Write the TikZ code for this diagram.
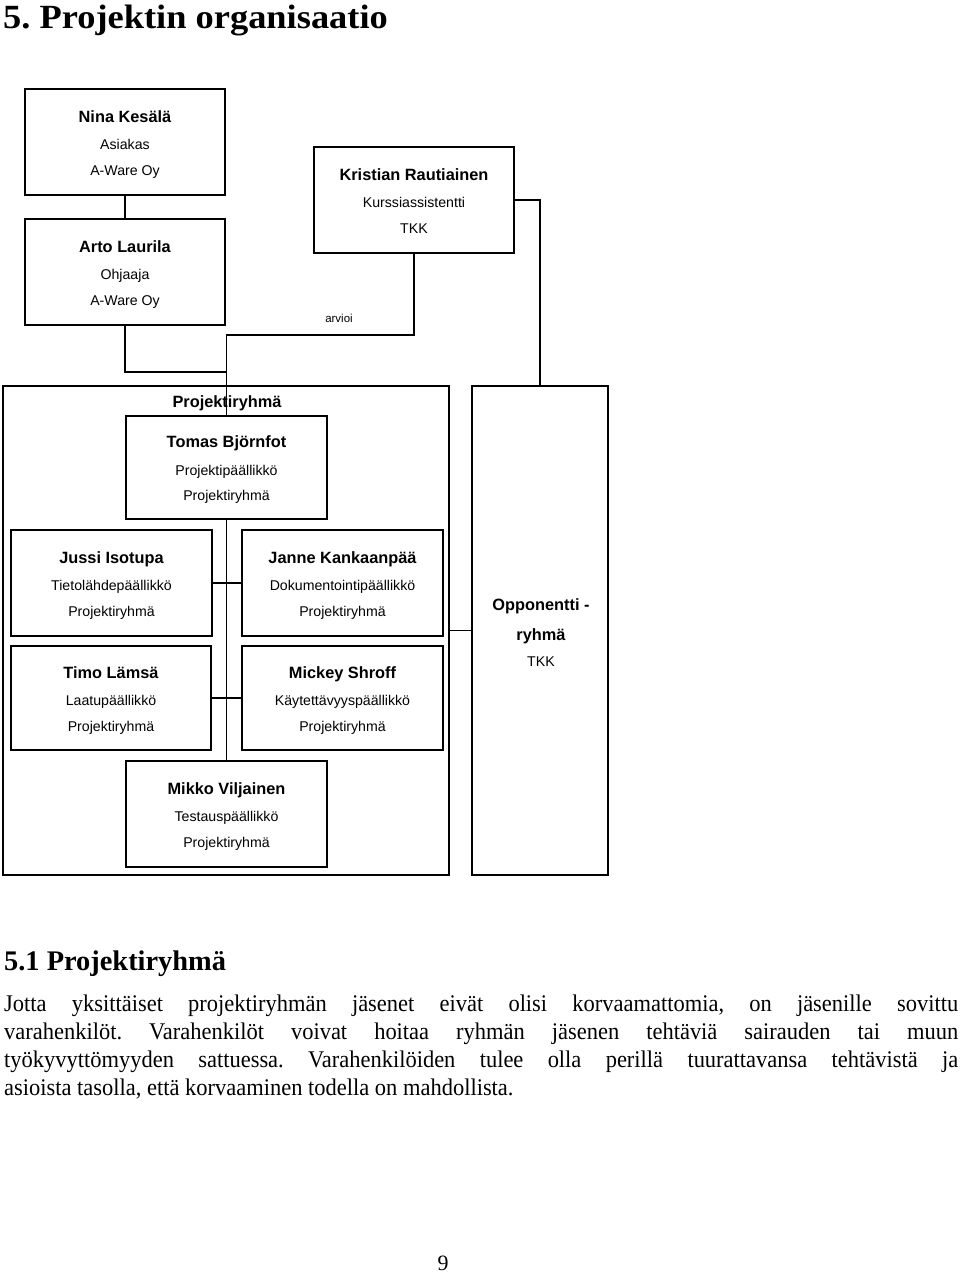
\documentclass[tikz,border=0pt]{standalone}
\usepackage{fontspec}
\setmainfont{Liberation Serif}
\newfontfamily\sansf{Liberation Sans}
\newfontfamily\titlef[FakeStretch=1.075]{Liberation Serif}
\newfontfamily\bodyf[FakeStretch=0.94]{Liberation Serif}
\frenchspacing
\tikzset{
  orgbox/.style={draw, line width=1.5bp, inner sep=0pt, rectangle},
  conn/.style={line width=1.5bp},
  nm/.style={font=\sansf\bfseries\fontsize{16.4}{18}\selectfont, inner sep=0pt},
  rg/.style={font=\sansf\fontsize{14.2}{16}\selectfont, inner sep=0pt},
  small/.style={font=\sansf\fontsize{11.5}{13}\selectfont, inner sep=0pt},
  bodyline/.style={font=\bodyf\fontsize{24}{28}\selectfont, inner sep=0pt, anchor=base west},
}
\newcommand\orgtext[4]{%
  \node[nm,anchor=base] (#1-a) at ([yshift=-34bp]#1.north) {#2};
  \node[rg,anchor=base] (#1-b) at ([yshift=-61bp]#1.north) {#3};
  \node[rg,anchor=base] (#1-c) at ([yshift=-87bp]#1.north) {#4};}
\begin{document}
\begin{tikzpicture}[x=1bp, y=-1bp]
\useasboundingbox (0,0) rectangle (960,1273);
% title
\node[anchor=base west, inner sep=0pt, font=\titlef\bfseries\fontsize{34}{40}\selectfont] (title) at (3,28.5) {5. Projektin organisaatio};
% top boxes
\node[orgbox, minimum width=200bp, minimum height=106bp] (nina) at (125,142) {};
\node[orgbox, minimum width=200bp, minimum height=106bp] (arto) at (125,272) {};
\node[orgbox, minimum width=200bp, minimum height=106bp] (kristian) at (414,200) {};
\orgtext{nina}{Nina Kesälä}{Asiakas}{A-Ware Oy}
\orgtext{arto}{Arto Laurila}{Ohjaaja}{A-Ware Oy}
\orgtext{kristian}{Kristian Rautiainen}{Kurssiassistentti}{TKK}
\node[small, anchor=base] (arvioi) at (339,322.5) {arvioi};
% group containers
\node[orgbox, minimum width=446bp, minimum height=489bp] (group) at (226,630.5) {};
\node[orgbox, minimum width=136bp, minimum height=489bp] (opp) at (540,630.5) {};
\node[nm, anchor=base] (grouplabel) at (227,407.5) {Projektiryhmä};
\node[nm, anchor=base] (opp-a) at (541,610.5) {Opponentti -};
\node[nm, anchor=base] (opp-b) at (541,640.5) {ryhmä};
\node[rg, anchor=base] (opp-c) at (541,666) {TKK};
% inner boxes
\node[orgbox, minimum width=201bp, minimum height=103bp] (tomas) at (226.5,467.5) {};
\node[orgbox, minimum width=201bp, minimum height=106bp] (jussi) at (111.5,583) {};
\node[orgbox, minimum width=201bp, minimum height=106bp] (janne) at (342.5,583) {};
\node[orgbox, minimum width=200bp, minimum height=104bp] (timo) at (111,698) {};
\node[orgbox, minimum width=201bp, minimum height=104bp] (mickey) at (342.5,698) {};
\node[orgbox, minimum width=201bp, minimum height=106bp] (mikko) at (226.5,814) {};
\node[nm,anchor=base] (tomas-a) at ([yshift=-32bp]tomas.north) {Tomas Björnfot};
\node[rg,anchor=base] (tomas-b) at ([yshift=-60bp]tomas.north) {Projektipäällikkö};
\node[rg,anchor=base] (tomas-c) at ([yshift=-85bp]tomas.north) {Projektiryhmä};
\orgtext{jussi}{Jussi Isotupa}{Tietolähdepäällikkö}{Projektiryhmä}
\orgtext{janne}{Janne Kankaanpää}{Dokumentointipäällikkö}{Projektiryhmä}
\node[nm,anchor=base] (timo-a) at ([yshift=-33bp]timo.north) {Timo Lämsä};
\node[rg,anchor=base] (timo-b) at ([yshift=-60bp]timo.north) {Laatupäällikkö};
\node[rg,anchor=base] (timo-c) at ([yshift=-86bp]timo.north) {Projektiryhmä};
\node[nm,anchor=base] (mickey-a) at ([yshift=-33bp]mickey.north) {Mickey Shroff};
\node[rg,anchor=base] (mickey-b) at ([yshift=-60bp]mickey.north) {Käytettävyyspäällikkö};
\node[rg,anchor=base] (mickey-c) at ([yshift=-86bp]mickey.north) {Projektiryhmä};
\orgtext{mikko}{Mikko Viljainen}{Testauspäällikkö}{Projektiryhmä}
% connectors
\coordinate (jk) at (226.5,335);
\coordinate (ja) at (226.5,372);
\draw[conn] (nina.south) -- (arto.south |- arto.north);
\draw[conn] (arto.south) |- (ja);
\draw[conn] (kristian.south) |- (jk) -- (tomas.north);
\draw[conn] (kristian.east) -| (opp.north);
\draw[conn] (tomas.south) -- (mikko.north);
\draw[conn] (jussi.east) -- (janne.west |- jussi.east);
\draw[conn] (timo.east) -- (mickey.west |- timo.east);
\draw[conn] (group.east) -- (opp.west);
% section text
\node[anchor=base west, inner sep=0pt, font=\bfseries\fontsize{28.5}{32}\selectfont] (heading) at (4,970) {5.1 Projektiryhmä};
\node[bodyline] (l1) at (4,1011.5) {\makebox[954bp][s]{Jotta yksittäiset projektiryhmän jäsenet eivät olisi korvaamattomia, on jäsenille sovittu}};
\node[bodyline] (l2) at (4,1039.5) {\makebox[954bp][s]{varahenkilöt. Varahenkilöt voivat hoitaa ryhmän jäsenen tehtäviä sairauden tai muun}};
\node[bodyline] (l3) at (4,1067.5) {\makebox[954bp][s]{työkyvyttömyyden sattuessa. Varahenkilöiden tulee olla perillä tuurattavansa tehtävistä ja}};
\node[bodyline] (l4) at (4,1095.5) {asioista tasolla, että korvaaminen todella on mahdollista.};
\node[anchor=base, inner sep=0pt, font=\fontsize{22}{24}\selectfont] (pagenum) at (443,1270) {9};
\end{tikzpicture}
\end{document}
